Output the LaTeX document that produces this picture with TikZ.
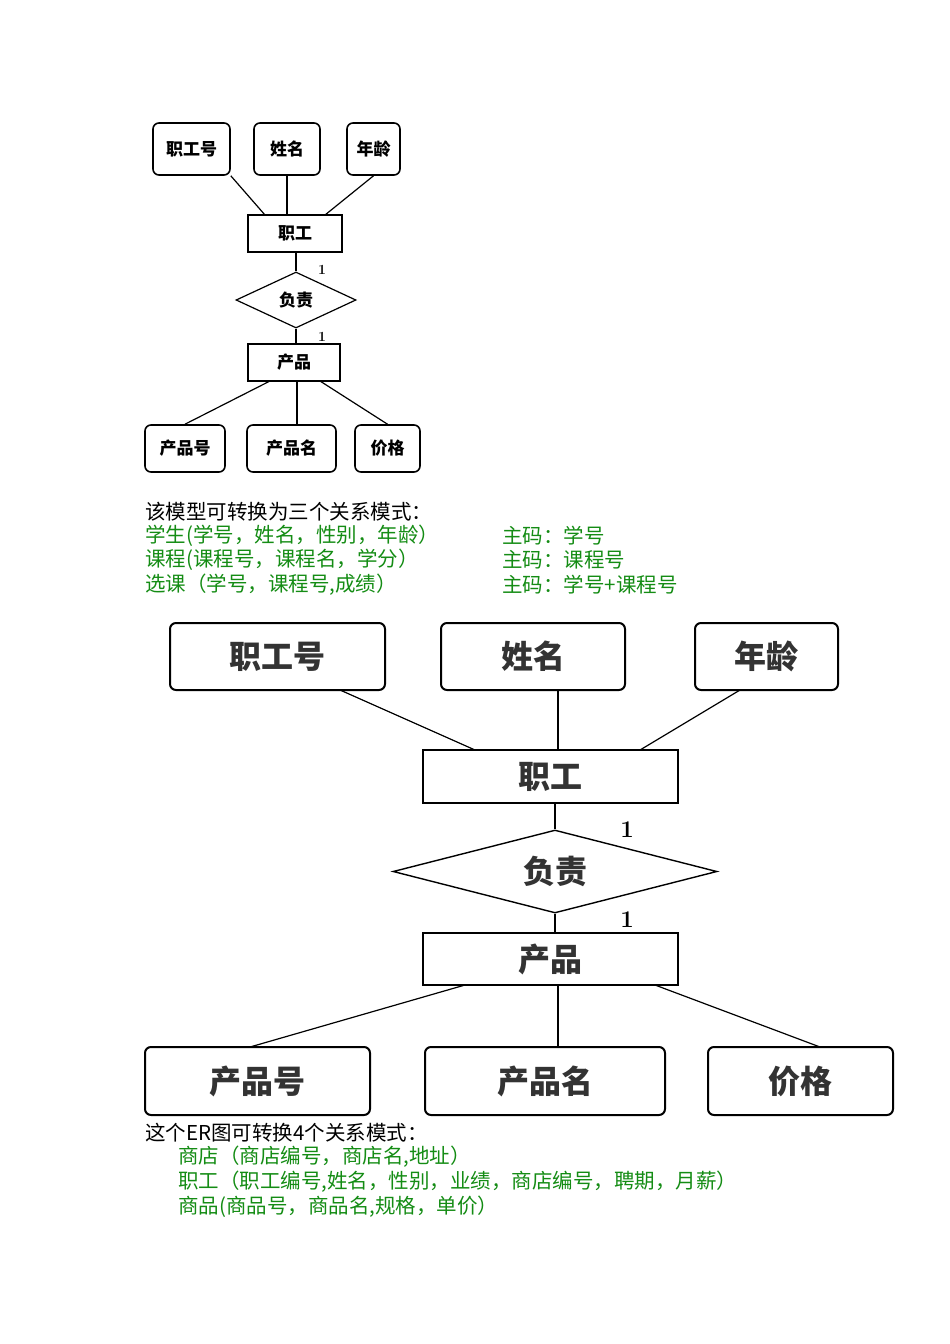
\documentclass[tikz,border=0pt]{standalone}
\usepackage{fontspec}
\newfontfamily\cjk{Noto Sans CJK SC}
\usetikzlibrary{shapes.geometric}
\definecolor{tg}{RGB}{20,140,20}
\newcommand\fsz{\fontsize{17}{20}\selectfont}
\begin{document}
\begin{tikzpicture}[x=1pt,y=-1pt,
 attr/.style={draw,rounded corners=6pt,line width=1.6pt,inner sep=0pt,font=\cjk\bfseries\fsz},
 ent/.style={draw,line width=1.6pt,inner sep=0pt,font=\cjk\bfseries\fsz},
 ln/.style={line width=1.2pt},
 txt/.style={anchor=west,inner sep=0pt,font=\cjk\fontsize{20.5}{22}\selectfont},
 gtxt/.style={txt,text=tg}]
\useasboundingbox (0,0) rectangle (950,1344);
% small diagram
\node[attr,minimum width=77,minimum height=52] (a1) at (191.5,149) {职工号};
\node[attr,minimum width=66,minimum height=52] (a2) at (287,149) {姓名};
\node[attr,minimum width=53,minimum height=52] (a3) at (373.5,149) {年龄};
\node[ent,minimum width=94,minimum height=37] (e1) at (295,233.5) {职工};
\node[draw,diamond,line width=1.2pt,inner sep=0pt,minimum width=120,minimum height=56,aspect=2.1,font=\cjk\bfseries\fsz] (r1) at (296,300) {负责};
\node[ent,minimum width=92,minimum height=37] (e2) at (294,362.5) {产品};
\node[attr,minimum width=80,minimum height=47] (b1) at (185,448.5) {产品号};
\node[attr,minimum width=89,minimum height=47] (b2) at (291.5,448.5) {产品名};
\node[attr,minimum width=65,minimum height=47] (b3) at (387.5,448.5) {价格};
\draw[ln] (a1.south east) -- (265,215);
\draw[ln] (a2.south) -- (a2.south |- e1.north);
\draw[ln] (a3.south) -- (325,215);
\draw[ln] (r1.north |- e1.south) -- (r1.north);
\draw[ln] (r1.south) -- (r1.south |- e2.north);
\draw[ln] (270,381) -- (b1.north);
\draw[ln] (297,381) -- (297,425);
\draw[ln] (320,381) -- (b3.north);
\node[font=\fontsize{14}{16}\selectfont\bfseries] (n1) at (322,270) {1};
\node[font=\fontsize{14}{16}\selectfont\bfseries] (n2) at (322,337) {1};
% text 1
\node[txt] (t0) at (145,512) {该模型可转换为三个关系模式：};
\node[gtxt] (t1) at (145,536) {学生(学号，姓名，性别，年龄）};
\node[gtxt] (t2) at (145,560) {课程(课程号，课程名，学分）};
\node[gtxt] (t3) at (145,585) {选课（学号，课程号,成绩）};
\node[gtxt] (u1) at (502,536) {主码：学号};
\node[gtxt] (u2) at (502,560) {主码：课程号};
\node[gtxt] (u3) at (502,585) {主码：学号+课程号};
% big diagram
\tikzset{big/.style={line width=2pt,font=\cjk\bfseries\fontsize{32}{36}\selectfont,text=black!80}}
\node[attr,big,minimum width=215,minimum height=67] (A1) at (277.5,656.5) {职工号};
\node[attr,big,minimum width=184,minimum height=67] (A2) at (533,656.5) {姓名};
\node[attr,big,minimum width=143,minimum height=67] (A3) at (766.5,656.5) {年龄};
\node[ent,big,minimum width=255,minimum height=53] (E1) at (550.5,776.5) {职工};
\node[draw,diamond,big,line width=1.4pt,inner sep=0pt,minimum width=324,minimum height=83,aspect=3.9] (R1) at (555,871.5) {负责};
\node[ent,big,minimum width=255,minimum height=52] (E2) at (550.5,959) {产品};
\node[attr,big,minimum width=225,minimum height=68] (B1) at (257.5,1081) {产品号};
\node[attr,big,minimum width=240,minimum height=68] (B2) at (545,1081) {产品名};
\node[attr,big,minimum width=185,minimum height=68] (B3) at (800.5,1081) {价格};
\draw[ln] (340,690) -- (475,750);
\draw[ln] (558,690) -- (558,750);
\draw[ln] (740,690) -- (640,750);
\draw[ln] (R1.north |- E1.south) -- (R1.north);
\draw[ln] (R1.south) -- (R1.south |- E2.north);
\draw[ln] (465,985) -- (250,1047);
\draw[ln] (558,985) -- (558,1047);
\draw[ln] (655,985) -- (820,1047);
\node[font=\fontsize{24}{26}\selectfont\bfseries] (N1) at (627,830) {1};
\node[font=\fontsize{24}{26}\selectfont\bfseries] (N2) at (627,920) {1};
% text 2
\node[txt] (s0) at (145,1133) {这个ER图可转换4个关系模式：};
\node[gtxt] (s1) at (178,1157) {商店（商店编号，商店名,地址）};
\node[gtxt] (s2) at (178,1182) {职工（职工编号,姓名，性别，业绩，商店编号，聘期，月薪）};
\node[gtxt] (s3) at (178,1207) {商品(商品号，商品名,规格，单价）};
\end{tikzpicture}
\end{document}
